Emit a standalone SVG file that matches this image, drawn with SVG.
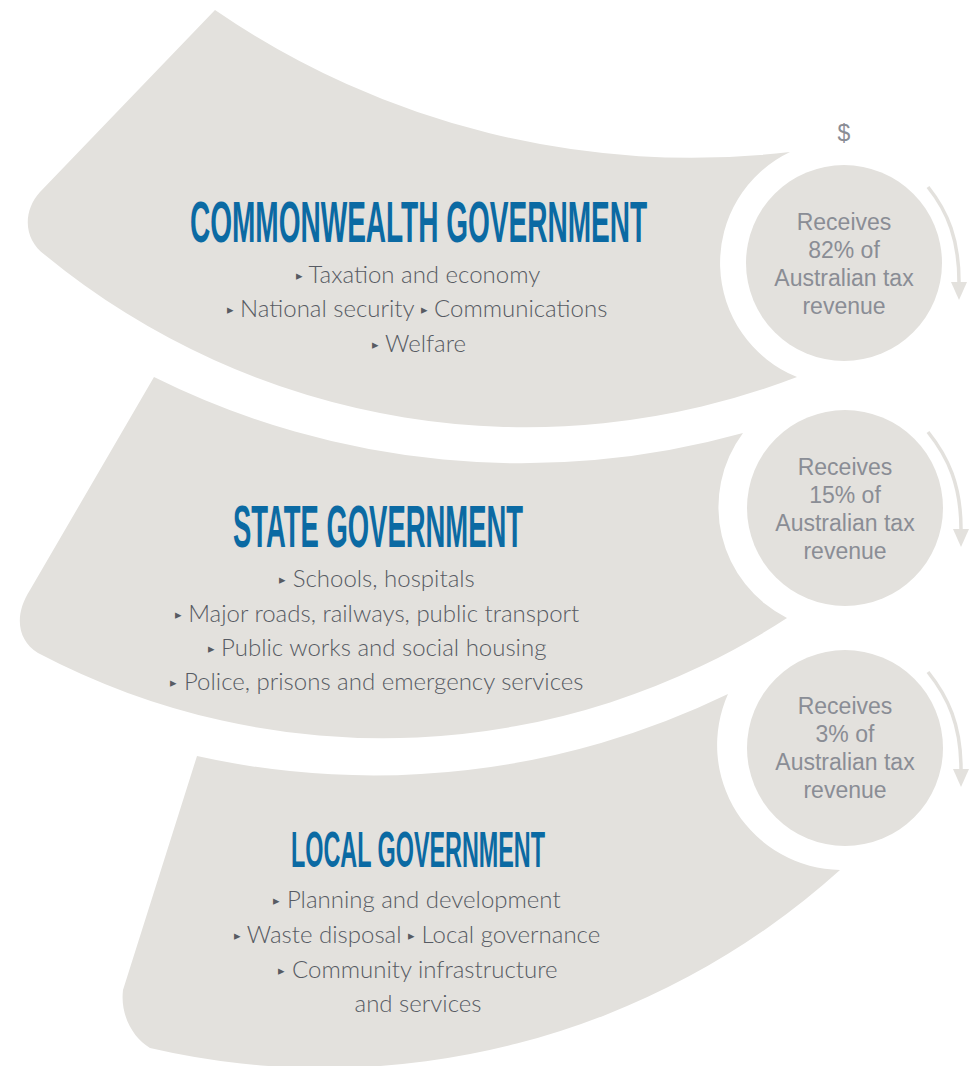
<svg xmlns="http://www.w3.org/2000/svg" width="975" height="1066" viewBox="0 0 975 1066">
  <defs>
    <style>
      .band { fill: #e3e1dd; }
      .disc { fill: #e3e1dd; }
      .head { font-family: "Liberation Sans", Arial, sans-serif; font-weight: bold; fill: #0b6aa3; text-anchor: middle; }
      .item { font-family: Lato, "Open Sans", "Liberation Sans", sans-serif; font-weight: 300; font-size: 24px; fill: #575b63; text-anchor: middle; }
      .bul { font-family: "DejaVu Sans", sans-serif; font-size: 13px; fill: #575b63; baseline-shift: 3px; }
      .rev { font-family: "Liberation Sans", Arial, sans-serif; font-size: 23px; fill: #8a8d95; text-anchor: middle; }
      .flow { fill: none; stroke: #e3e1dd; stroke-width: 3.5; }
    </style>
    <marker id="arrowhead" markerUnits="userSpaceOnUse" markerWidth="18" markerHeight="16" viewBox="0 0 18 16" refX="0" refY="8" orient="auto">
      <path d="M0,0 L18,8 L0,16 Z" fill="#e3e1dd"/>
    </marker>
  </defs>
  <rect width="975" height="1066" fill="#ffffff"/>

  <g id="commonwealth">
    <path class="band" d="M215,10 A841,841 0 0 0 790,152 A123,123 0 0 0 797,377 A757,757 0 0 1 45,255 C24,240 22,212 40,192 Z"/>
    <text class="head" x="418.5" y="242" font-size="58" textLength="457" lengthAdjust="spacingAndGlyphs">COMMONWEALTH GOVERNMENT</text>
    <text class="item" x="418" y="283"><tspan class="bul">▸</tspan> Taxation and economy</text>
    <text class="item" x="417" y="317"><tspan class="bul">▸</tspan> National security <tspan class="bul">▸</tspan> Communications</text>
    <text class="item" x="419" y="352"><tspan class="bul">▸</tspan> Welfare</text>
  </g>

  <g id="commonwealth-revenue">
    <circle class="disc" cx="844" cy="263" r="98"/>
    <text class="rev" x="844" y="141" font-size="21">$</text>
    <text class="rev" x="844" y="230">Receives</text>
    <text class="rev" x="844" y="258">82% of</text>
    <text class="rev" x="844" y="286">Australian tax</text>
    <text class="rev" x="844" y="314">revenue</text>
  </g>

  <g id="state">
    <path class="band" d="M154,377 A825,825 0 0 0 743,433 A124,124 0 0 0 787,618 A740,740 0 0 1 38,653 C17,640 14,615 30,590 Z"/>
    <text class="head" x="378" y="547" font-size="60" textLength="290" lengthAdjust="spacingAndGlyphs">STATE GOVERNMENT</text>
    <text class="item" x="377" y="587"><tspan class="bul">▸</tspan> Schools, hospitals</text>
    <text class="item" x="377" y="622"><tspan class="bul">▸</tspan> Major roads, railways, public transport</text>
    <text class="item" x="377" y="656"><tspan class="bul">▸</tspan> Public works and social housing</text>
    <text class="item" x="377" y="690"><tspan class="bul">▸</tspan> Police, prisons and emergency services</text>
  </g>

  <g id="state-revenue">
    <circle class="disc" cx="845" cy="508" r="98"/>
    <text class="rev" x="845" y="475">Receives</text>
    <text class="rev" x="845" y="503">15% of</text>
    <text class="rev" x="845" y="531">Australian tax</text>
    <text class="rev" x="845" y="559">revenue</text>
  </g>

  <g id="local">
    <path class="band" d="M197,756 A812,812 0 0 0 728,694 A125,125 0 0 0 840,870 A770,770 0 0 1 150,1048 C133,1038 120,1015 123,990 Z"/>
    <text class="head" x="418" y="867" font-size="50" textLength="254" lengthAdjust="spacingAndGlyphs">LOCAL GOVERNMENT</text>
    <text class="item" x="417" y="908"><tspan class="bul">▸</tspan> Planning and development</text>
    <text class="item" x="417" y="943"><tspan class="bul">▸</tspan> Waste disposal <tspan class="bul">▸</tspan> Local governance</text>
    <text class="item" x="418" y="978"><tspan class="bul">▸</tspan> Community infrastructure</text>
    <text class="item" x="418" y="1012">and services</text>
  </g>

  <g id="local-revenue">
    <circle class="disc" cx="845" cy="748" r="98"/>
    <text class="rev" x="845" y="714">Receives</text>
    <text class="rev" x="845" y="742">3% of</text>
    <text class="rev" x="845" y="770">Australian tax</text>
    <text class="rev" x="845" y="798">revenue</text>
  </g>

  <g id="connectors">
    <path class="flow" marker-end="url(#arrowhead)" d="M928,187 C948,212 959,240 959,282"/>
    <path class="flow" marker-end="url(#arrowhead)" d="M928,432 C948,457 961,485 961,529"/>
    <path class="flow" marker-end="url(#arrowhead)" d="M928,672 C948,697 961,725 961,769"/>
  </g>
</svg>
